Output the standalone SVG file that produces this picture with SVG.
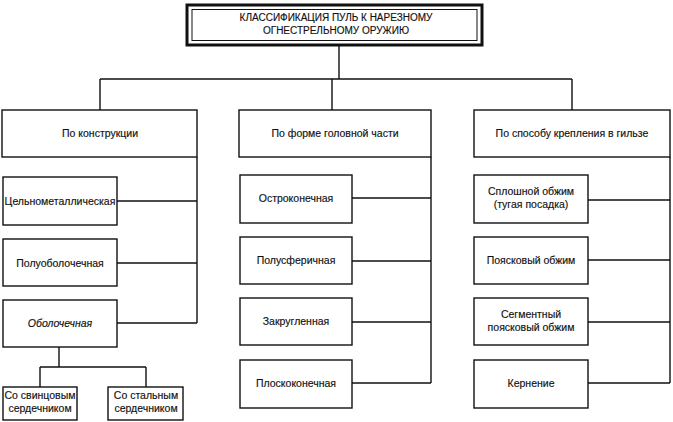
<svg xmlns="http://www.w3.org/2000/svg" width="673" height="422" viewBox="0 0 673 422">
<style>
.box{fill:#fff;stroke:#111;stroke-width:1.4}
.ln{fill:none;stroke:#111;stroke-width:1.4}
text{font-family:"Liberation Sans",Arial,sans-serif;font-size:10.5px;fill:#111;stroke:#111;stroke-width:0.15;text-anchor:middle}
.t{font-size:10px}
.it{font-style:italic}
</style>
<rect width="673" height="422" fill="#fff"/>
<g id="connectors" class="ln">
<path d="M339,46V79M100,79H572M100,79V110M332,79V110M572,79V110"/>
<path d="M197,157V323M117,201H197M117,263H197M117,323H197"/>
<path d="M431,157V383M352,198H431M352,261H431M352,322H431M352,383H431"/>
<path d="M670,157V383M588,200H670M588,260H670M588,322H670M588,383H670"/>
<path d="M59,347V367M40,367H146M40,367V387M146,367V387"/>
</g>
<g id="title">
<rect x="187" y="5" width="295" height="40" fill="#fff" stroke="#111" stroke-width="3"/>
<rect x="192" y="9.5" width="285" height="31" fill="none" stroke="#111" stroke-width="1"/>
<text class="t" x="336" y="21">КЛАССИФИКАЦИЯ ПУЛЬ К НАРЕЗНОМУ</text>
<text class="t" x="336" y="34">ОГНЕСТРЕЛЬНОМУ ОРУЖИЮ</text>
</g>
<g id="construction"><rect class="box" x="2" y="110" width="195" height="47"/><text x="100" y="137">По конструкции</text></g>
<g id="head-shape"><rect class="box" x="239" y="110" width="192" height="47"/><text x="335" y="137">По форме головной части</text></g>
<g id="fixing"><rect class="box" x="474" y="110" width="196" height="47"/><text x="572" y="137">По способу крепления в гильзе</text></g>
<g id="solid-metal"><rect class="box" x="3" y="177" width="114" height="48"/><text x="60" y="205">Цельнометаллическая</text></g>
<g id="semi-jacketed"><rect class="box" x="3" y="239" width="114" height="47"/><text x="60" y="267">Полуоболочечная</text></g>
<g id="jacketed"><rect class="box" x="3" y="300" width="114" height="47"/><text class="it" x="60" y="327">Оболочечная</text></g>
<g id="lead-core"><rect class="box" x="3" y="387" width="74" height="33"/><text x="40" y="399">Со свинцовым</text><text x="40" y="412">сердечником</text></g>
<g id="steel-core"><rect class="box" x="108" y="387" width="75" height="33"/><text x="146" y="399">Со стальным</text><text x="146" y="412">сердечником</text></g>
<g id="pointed"><rect class="box" x="240" y="175" width="112" height="48"/><text x="296" y="202">Остроконечная</text></g>
<g id="hemispherical"><rect class="box" x="240" y="237" width="112" height="47"/><text x="296" y="264">Полусферичная</text></g>
<g id="rounded"><rect class="box" x="240" y="298" width="112" height="47"/><text x="296" y="325">Закругленная</text></g>
<g id="flat-nosed"><rect class="box" x="240" y="360" width="112" height="48"/><text x="296" y="387">Плоскоконечная</text></g>
<g id="solid-crimp"><rect class="box" x="474" y="175" width="114" height="48"/><text x="531" y="195">Сплошной обжим</text><text x="531" y="208">(тугая посадка)</text></g>
<g id="belt-crimp"><rect class="box" x="474" y="237" width="114" height="47"/><text x="531" y="264">Поясковый обжим</text></g>
<g id="segment-crimp"><rect class="box" x="474" y="298" width="114" height="47"/><text x="531" y="318">Сегментный</text><text x="531" y="331">поясковый обжим</text></g>
<g id="punching"><rect class="box" x="474" y="360" width="114" height="48"/><text x="531" y="387">Кернение</text></g>
</svg>
